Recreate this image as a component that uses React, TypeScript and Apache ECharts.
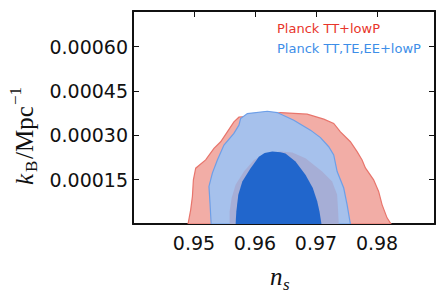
import React, { useEffect, useRef } from 'react';
import * as echarts from 'echarts';

// Tick values
const xTicks = [0.95, 0.96, 0.97, 0.98];
const yTicks = [0.00015, 0.0003, 0.00045, 0.0006];

// Series names (legend)
const seriesNames = ['Planck TT+lowP', 'Planck TT,TE,EE+lowP'];

// Contour outlines [n_s, k_B]
const ttOuter: [number, number][] = [
  [0.94902, 0], [0.94946, 0.0000487], [0.94974, 0.0000934], [0.9499, 0.0001494],
  [0.95028, 0.0001887], [0.95191, 0.0002166], [0.95327, 0.0002559], [0.95437, 0.000278],
  [0.95546, 0.0003116], [0.95654, 0.0003452], [0.95736, 0.000361], [0.96145, 0.0003677],
  [0.96418, 0.0003768], [0.96855, 0.0003711], [0.97127, 0.0003543], [0.9729, 0.0003398],
  [0.974, 0.0003116], [0.97563, 0.000278], [0.97673, 0.0002445], [0.97755, 0.0002166],
  [0.97809, 0.0001897], [0.97944, 0.0001494], [0.98026, 0.0001101], [0.98082, 0.0000655],
  [0.98164, 0.0000208], [0.98229, 0],
];

const allOuter: [number, number][] = [
  [0.95281, 0], [0.95262, 0.0000712], [0.95245, 0.0001269], [0.95301, 0.0001719],
  [0.95383, 0.0002166], [0.95491, 0.000267], [0.95654, 0.0003062], [0.95736, 0.0003341],
  [0.95764, 0.0003566], [0.95874, 0.0003734], [0.96201, 0.0003811], [0.96364, 0.0003768],
  [0.96636, 0.0003509], [0.96909, 0.0003173], [0.97073, 0.0002921], [0.97208, 0.0002612],
  [0.9729, 0.0002334], [0.97346, 0.0001773], [0.97454, 0.0001216], [0.97509, 0.0000655],
  [0.97563, 0],
];

const ttInner: [number, number][] = [
  [0.95584, 0], [0.95584, 0.000043], [0.95617, 0.000088], [0.95682, 0.0001326],
  [0.95818, 0.0001773], [0.95982, 0.0002166], [0.96173, 0.0002384], [0.96418, 0.0002451],
  [0.9661, 0.0002418], [0.96827, 0.0002223], [0.971, 0.0001773], [0.97264, 0.0001437],
  [0.97346, 0.0000991], [0.97362, 0.000043], [0.97372, 0],
];

const allInner: [number, number][] = [
  [0.95682, 0], [0.95694, 0.000043], [0.95726, 0.0000991], [0.95792, 0.0001437],
  [0.95928, 0.0001887], [0.96063, 0.0002277], [0.96157, 0.0002401], [0.96283, 0.0002451],
  [0.96418, 0.0002424], [0.965, 0.0002384], [0.96664, 0.0002109], [0.96827, 0.0001662],
  [0.96947, 0.0001216], [0.97019, 0.0000766], [0.97056, 0.000043], [0.97089, 0],
];

const AX = '#111111';
const FONT = "'DejaVu Sans', sans-serif";
const SERIF = "'Liberation Serif', 'DejaVu Serif', serif";

function polySeries(name: string, pts: [number, number][], fill: string, stroke: string, lw: number) {
  return {
    type: 'custom',
    name,
    coordinateSystem: 'cartesian2d',
    xAxisIndex: 0,
    yAxisIndex: 0,
    clip: true,
    silent: true,
    data: pts,
    encode: { x: 0, y: 1 },
    renderItem: (params: any, api: any) => {
      if (params.dataIndex !== 0) return null;
      const points = pts.map((p) => api.coord(p));
      return {
        type: 'polygon',
        shape: { points },
        style: { fill, stroke, lineWidth: lw },
      };
    },
  };
}

function makeXAxis(position: 'bottom' | 'top', showLabel: boolean) {
  return {
    type: 'value',
    position,
    min: 0.94,
    max: 0.9895,
    axisLine: { show: true, onZero: false, lineStyle: { color: AX, width: 2 } },
    axisTick: { show: true, inside: true, length: 6, customValues: xTicks, lineStyle: { color: AX, width: 1 } },
    axisLabel: {
      show: showLabel,
      customValues: xTicks,
      formatter: (v: number) => v.toFixed(2),
      fontFamily: FONT,
      fontSize: 19,
      color: AX,
      margin: 9,
    },
    splitLine: { show: false },
  };
}

function makeYAxis(position: 'left' | 'right', showLabel: boolean) {
  return {
    type: 'value',
    position,
    min: 0,
    max: 0.00072,
    axisLine: { show: true, onZero: false, lineStyle: { color: AX, width: 2 } },
    axisTick: { show: true, inside: true, length: 6, customValues: yTicks, lineStyle: { color: AX, width: 1 } },
    axisLabel: {
      show: showLabel,
      customValues: yTicks,
      formatter: (v: number) => v.toFixed(5),
      fontFamily: FONT,
      fontSize: 19,
      color: AX,
      margin: 5,
    },
    splitLine: { show: false },
  };
}

export default function App() {
  const ref = useRef<HTMLDivElement>(null);
  useEffect(() => {
    if (!ref.current) return;
    const chart = echarts.init(ref.current, undefined, { renderer: 'svg' });
    chart.setOption({
      animation: false,
      backgroundColor: '#ffffff',
      grid: { left: 133, right: 7, top: 11, bottom: 76, containLabel: false },
      xAxis: [makeXAxis('bottom', true), makeXAxis('top', false)],
      yAxis: [makeYAxis('left', true), makeYAxis('right', false)],
      series: [
        polySeries(seriesNames[0] + ' 95%', ttOuter, '#f2ada6', '#e8756c', 1.2),
        polySeries(seriesNames[1] + ' 95%', allOuter, '#a6c1ec', '#6d9fe8', 1.2),
        polySeries(seriesNames[0] + ' 68%', ttInner, '#a6aed6', 'none', 0),
        polySeries(seriesNames[1] + ' 68%', allInner, '#2166cc', 'none', 0),
      ],
      graphic: [
        { type: 'text', left: 277, top: 22, style: { text: seriesNames[0], fill: '#e8352b', font: `13px ${FONT}` } },
        { type: 'text', left: 277, top: 42, style: { text: seriesNames[1], fill: '#3d8ee8', font: `13px ${FONT}` } },
        // x axis name: n_s
        { type: 'text', x: 270, y: 276, style: { text: 'n', fill: AX, font: `italic 25px ${SERIF}`, verticalAlign: 'middle', align: 'left' } },
        { type: 'text', x: 283, y: 284, style: { text: 's', fill: AX, font: `italic 17px ${SERIF}`, verticalAlign: 'middle', align: 'left' } },
        // y axis name: k_B / Mpc^-1
        {
          type: 'group',
          x: 24,
          y: 125,
          rotation: Math.PI / 2,
          children: [
            { type: 'text', x: -60, y: 0, style: { text: 'k', fill: AX, font: `italic 25px ${SERIF}`, verticalAlign: 'middle', align: 'left' } },
            { type: 'text', x: -47, y: 7, style: { text: 'B', fill: AX, font: `17px ${SERIF}`, verticalAlign: 'middle', align: 'left' } },
            { type: 'text', x: -34, y: 0, style: { text: '/Mpc', fill: AX, font: `25px ${SERIF}`, verticalAlign: 'middle', align: 'left' } },
            { type: 'text', x: 20, y: -9, style: { text: '\u22121', fill: AX, font: `17px ${SERIF}`, verticalAlign: 'middle', align: 'left' } },
          ],
        },
      ],
    });
    return () => chart.dispose();
  }, []);
  return <div ref={ref} style={{ position: 'fixed', left: 0, top: 0, width: 442, height: 300 }} />;
}
